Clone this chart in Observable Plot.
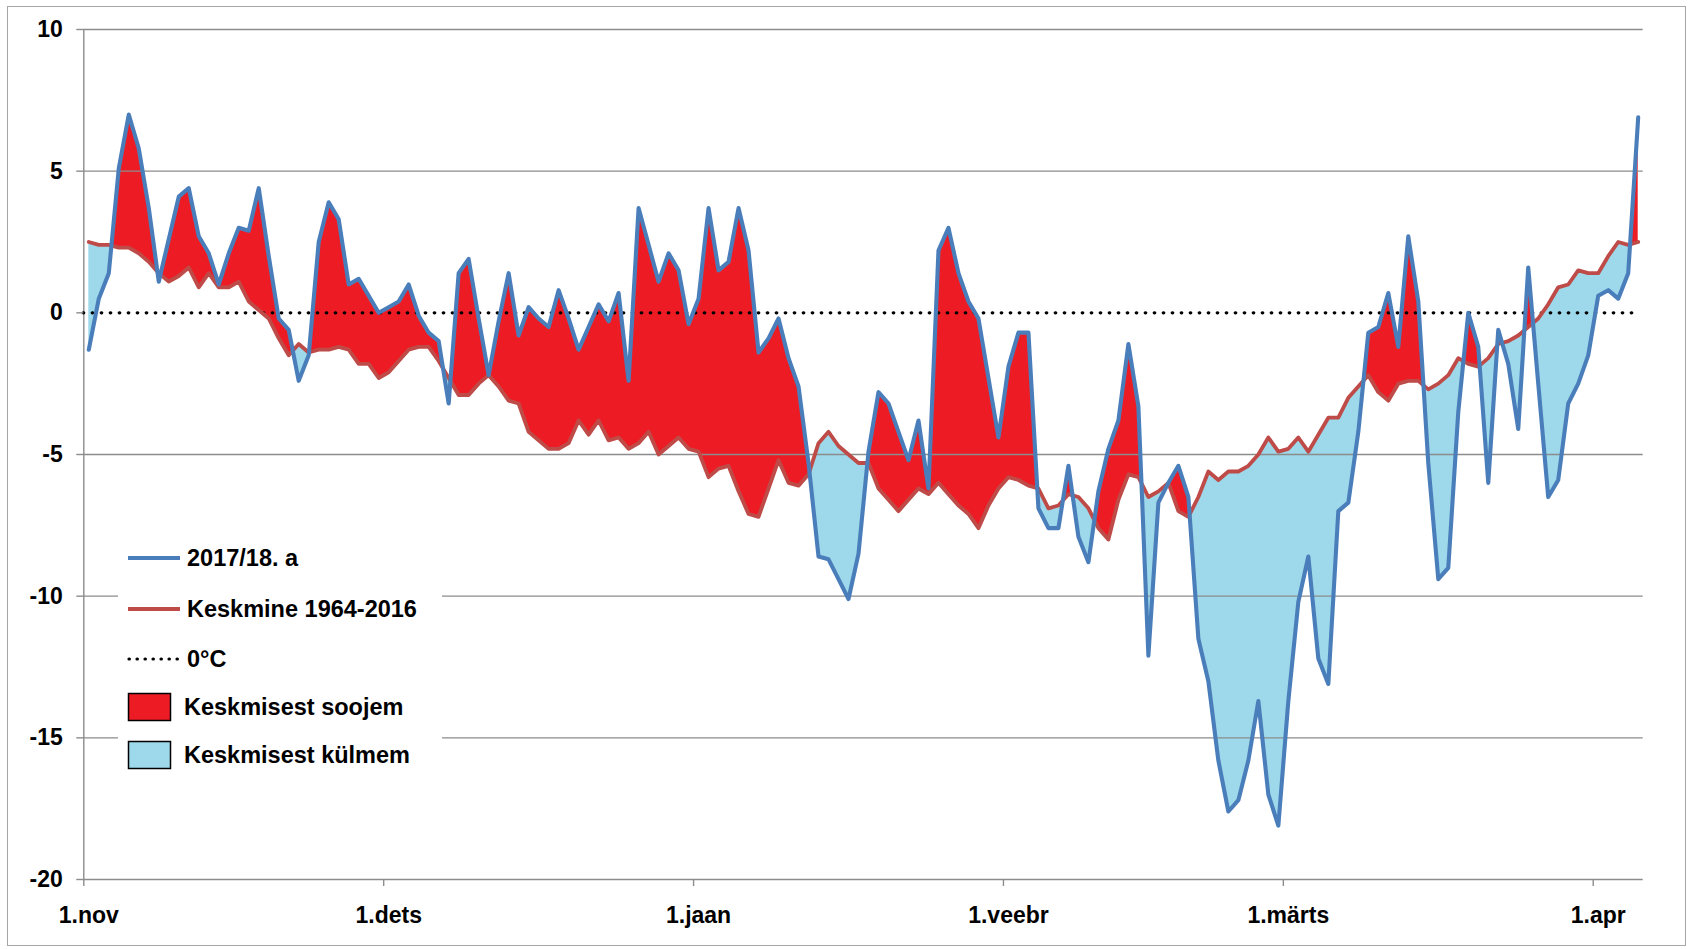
<!DOCTYPE html>
<html>
<head>
<meta charset="utf-8">
<script src="https://cdn.jsdelivr.net/npm/d3@7"></script>
<script src="https://cdn.jsdelivr.net/npm/@observablehq/plot@0.6"></script>
<style>
  html, body { margin: 0; padding: 0; background: #fff; overflow: hidden; }
  #wrap { position: relative; width: 1689px; height: 949px; }
  #border { position: absolute; left: 7px; top: 6px; width: 1677px; height: 938px; border: 1.5px solid #a6a6a6; pointer-events: none; }
  #legend { position: absolute; left: 118px; top: 522px; }
  svg text { font-family: "Liberation Sans", Arial, sans-serif; }
</style>
</head>
<body>
<div id="wrap">
  <div id="chart"></div>
  <div id="legend"></div>
  <div id="border"></div>
</div>
<script>
// Daily mean air temperature, 1 Nov 2017 – 5 Apr 2018 (°C), one value per day
const temp2017 = [
  -1.3, 0.5, 1.4, 5.1, 7.0, 5.8, 3.7, 1.1, 2.6, 4.1,
  4.4, 2.7, 2.1, 1.0, 2.1, 3.0, 2.9, 4.4, 2.0, -0.2,
  -0.6, -2.4, -1.5, 2.5, 3.9, 3.3, 1.0, 1.2, 0.6, 0.0,
  0.2, 0.4, 1.0, -0.1, -0.7, -1.0, -3.2, 1.4, 1.9, -0.2,
  -2.2, -0.3, 1.4, -0.8, 0.2, -0.2, -0.5, 0.8, -0.2, -1.3,
  -0.5, 0.3, -0.3, 0.7, -2.4, 3.7, 2.4, 1.1, 2.1, 1.5,
  -0.4, 0.5, 3.7, 1.5, 1.8, 3.7, 2.2, -1.4, -0.9, -0.2,
  -1.6, -2.6, -5.3, -8.6, -8.7, -9.4, -10.1, -8.5, -4.9, -2.8,
  -3.2, -4.2, -5.2, -3.8, -6.2, 2.2, 3.0, 1.4, 0.4, -0.2,
  -2.3, -4.4, -1.9, -0.7, -0.7, -6.9, -7.6, -7.6, -5.4, -7.9,
  -8.8, -6.3, -4.8, -3.8, -1.1, -3.3, -12.1, -6.7, -6.0, -5.4,
  -6.5, -11.5, -13.0, -15.8, -17.6, -17.2, -15.8, -13.7, -17.0, -18.1,
  -13.7, -10.2, -8.6, -12.2, -13.1, -7.0, -6.7, -4.2, -0.7, -0.5,
  0.7, -1.2, 2.7, 0.4, -5.3, -9.4, -9.0, -3.5, 0.0, -1.2,
  -6.0, -0.6, -1.8, -4.1, 1.6, -2.5, -6.5, -5.9, -3.2, -2.5,
  -1.5, 0.6, 0.8, 0.5, 1.4, 6.9
];

// Long-term daily mean 1964–2016 for the same calendar days (°C)
const avg1964_2016 = [
  2.5, 2.4, 2.4, 2.3, 2.3, 2.1, 1.8, 1.4, 1.1, 1.3,
  1.6, 0.9, 1.4, 0.9, 0.9, 1.1, 0.4, 0.1, -0.2, -0.9,
  -1.5, -1.1, -1.4, -1.3, -1.3, -1.2, -1.3, -1.8, -1.8, -2.3,
  -2.1, -1.7, -1.3, -1.2, -1.2, -1.7, -2.3, -2.9, -2.9, -2.5,
  -2.2, -2.6, -3.1, -3.2, -4.2, -4.5, -4.8, -4.8, -4.6, -3.8,
  -4.3, -3.8, -4.5, -4.4, -4.8, -4.6, -4.2, -5.0, -4.7, -4.4,
  -4.8, -4.9, -5.8, -5.5, -5.4, -6.3, -7.1, -7.2, -6.2, -5.2,
  -6.0, -6.1, -5.7, -4.6, -4.2, -4.7, -5.0, -5.3, -5.3, -6.2,
  -6.6, -7.0, -6.6, -6.2, -6.4, -6.0, -6.4, -6.8, -7.1, -7.6,
  -6.8, -6.2, -5.8, -5.9, -6.1, -6.2, -6.9, -6.8, -6.4, -6.5,
  -6.9, -7.6, -8.0, -6.6, -5.7, -5.8, -6.5, -6.3, -6.0, -7.0,
  -7.2, -6.5, -5.6, -5.9, -5.6, -5.6, -5.4, -5.0, -4.4, -4.9,
  -4.8, -4.4, -4.9, -4.3, -3.7, -3.7, -3.0, -2.6, -2.2, -2.8,
  -3.1, -2.5, -2.4, -2.4, -2.7, -2.5, -2.2, -1.6, -1.8, -1.9,
  -1.6, -1.1, -1.0, -0.8, -0.5, -0.2, 0.3, 0.9, 1.0, 1.5,
  1.4, 1.4, 2.0, 2.5, 2.4, 2.5
];

// Month starts (day index counted from 1 Nov) and their labels
const monthStartIndex = [0, 30, 61, 92, 120, 151];
const monthLabels = ["1.nov", "1.dets", "1.jaan", "1.veebr", "1.märts", "1.apr"];

// Value axis ticks
const yTicks = [10, 5, 0, -5, -10, -15, -20];

// Legend entries
const legendLabels = ["2017/18. a", "Keskmine 1964-2016", "0°C", "Keskmisest soojem", "Keskmisest külmem"];

const colors = {
  temp: "#4A7EBB",
  avg: "#BE4B48",
  warm: "#ED1C24",
  cold: "#9DD9EA",
  grid: "#8c8c8c"
};

const days = temp2017.map((t, i) => ({i, temp: t, avg: avg1964_2016[i]}));

// Band between the two curves, with extra vertices where they cross so the
// warm / cold fills switch exactly at the intersection.
const band = [];
for (let i = 0; i < days.length; i++) {
  band.push({x: i, r: days[i].avg, b: days[i].temp});
  if (i < days.length - 1) {
    const d0 = days[i].temp - days[i].avg;
    const d1 = days[i + 1].temp - days[i + 1].avg;
    if (d0 * d1 < 0) {
      const t = d0 / (d0 - d1);
      const yc = days[i].avg + t * (days[i + 1].avg - days[i].avg);
      band.push({x: i + t, r: yc, b: yc});
    }
  }
}

const monthBounds = monthStartIndex.map(d => d - 0.5);
const labelOf = new Map(monthStartIndex.map((d, k) => [d, monthLabels[k]]));

const chart = Plot.plot({
  width: 1689,
  height: 949,
  marginLeft: 83.3,
  marginRight: 46.3,
  marginTop: 29,
  marginBottom: 70,
  x: {domain: [-0.5, days.length - 0.5]},
  y: {domain: [-20, 10]},
  style: {
    fontFamily: "'Liberation Sans', Arial, sans-serif",
    fontWeight: "bold",
    fontSize: "23px",
    color: "#000",
    background: "transparent",
    overflow: "visible"
  },
  marks: [
    Plot.areaY(band, {x: "x", y1: "r", y2: d => Math.max(d.b, d.r), fill: colors.warm, curve: "linear"}),
    Plot.areaY(band, {x: "x", y1: "r", y2: d => Math.min(d.b, d.r), fill: colors.cold, curve: "linear"}),
    Plot.ruleY(yTicks.filter(v => v !== 0), {stroke: colors.grid, strokeWidth: 1.4}),
    Plot.ruleX([-0.5], {stroke: colors.grid, strokeWidth: 1.4}),
    Plot.ruleY([0], {x1: -0.5, x2: days.length - 1, stroke: "#000", strokeWidth: 3.4, strokeLinecap: "round", strokeDasharray: "0.4 8.6"}),
    Plot.lineY(days, {x: "i", y: "avg", stroke: colors.avg, strokeWidth: 3.8, strokeLinejoin: "round"}),
    Plot.lineY(days, {x: "i", y: "temp", stroke: colors.temp, strokeWidth: 4.1, strokeLinejoin: "round"}),
    Plot.axisY(yTicks, {tickSize: 7, tickPadding: 14, stroke: colors.grid, strokeWidth: 1.4, fill: "#000", tickFormat: d => String(d)}),
    Plot.axisX(monthBounds, {tickSize: 7, stroke: colors.grid, strokeWidth: 1.4, tickFormat: () => ""}),
    Plot.axisX(monthStartIndex, {tickSize: 0, tickPadding: 27, fill: "#000", tickFormat: d => labelOf.get(d)})
  ]
});
document.getElementById("chart").appendChild(chart);

// Legend drawn on a white panel inside the plot area
const lg = d3.select("#legend").append("svg")
  .attr("width", 324).attr("height", 266)
  .style("display", "block");
lg.append("rect").attr("width", 324).attr("height", 266).attr("fill", "#fff");
const rowY = [36, 87, 137, 185, 233];
lg.append("line").attr("x1", 10).attr("x2", 62).attr("y1", rowY[0]).attr("y2", rowY[0])
  .attr("stroke", colors.temp).attr("stroke-width", 4.2);
lg.append("line").attr("x1", 10).attr("x2", 62).attr("y1", rowY[1]).attr("y2", rowY[1])
  .attr("stroke", colors.avg).attr("stroke-width", 4.2);
lg.append("line").attr("x1", 11).attr("x2", 60).attr("y1", rowY[2]).attr("y2", rowY[2])
  .attr("stroke", "#000").attr("stroke-width", 3.2).attr("stroke-linecap", "round")
  .attr("stroke-dasharray", "0.4 7.6");
lg.append("rect").attr("x", 10.5).attr("y", rowY[3] - 13.5).attr("width", 42).attr("height", 27)
  .attr("fill", colors.warm).attr("stroke", "#000").attr("stroke-width", 1.5);
lg.append("rect").attr("x", 10.5).attr("y", rowY[4] - 13.5).attr("width", 42).attr("height", 27)
  .attr("fill", colors.cold).attr("stroke", "#000").attr("stroke-width", 1.5);
const textX = [69, 69, 69, 66, 66];
legendLabels.forEach((t, k) => {
  lg.append("text").attr("x", textX[k]).attr("y", rowY[k]).attr("dy", "0.35em")
    .attr("font-size", 23.5).attr("font-weight", "bold").attr("fill", "#000").text(t);
});
</script>
</body>
</html>
